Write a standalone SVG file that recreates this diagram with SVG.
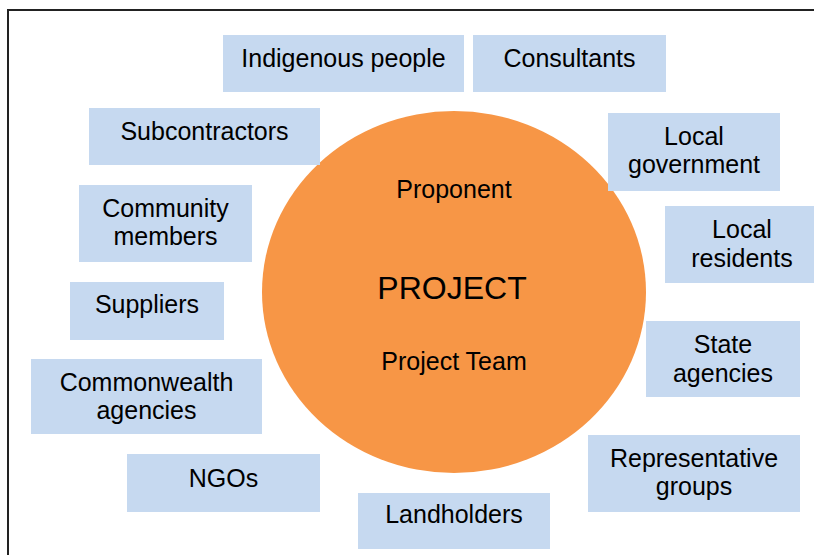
<svg xmlns="http://www.w3.org/2000/svg" width="814" height="555" viewBox="0 0 814 555">
<style>
.box{fill:#C6D9F0}
.t{font-family:"Liberation Sans",Arial,sans-serif;font-size:25px;fill:#000;text-anchor:middle}
.big{font-size:32px}
</style>
<rect x="0" y="0" width="814" height="555" fill="#fff"/>
<rect x="8" y="10" width="830" height="570" fill="none" stroke="#222" stroke-width="2"/>
<g id="connectors"></g>
<g id="project">
<ellipse cx="454" cy="292" rx="192" ry="181" fill="#F79646"/>
<text class="t" x="454" y="198">Proponent</text>
<text class="t big" x="452" y="299">PROJECT</text>
<text class="t" x="454" y="370">Project Team</text>
</g>
<g id="indigenous"><rect class="box" x="223" y="35" width="241" height="57"/><text class="t" x="343.5" y="67">Indigenous people</text></g>
<g id="consultants"><rect class="box" x="473" y="35" width="193" height="57"/><text class="t" x="569.5" y="67">Consultants</text></g>
<g id="subcontractors"><rect class="box" x="89" y="108" width="231" height="57"/><text class="t" x="204.5" y="140">Subcontractors</text></g>
<g id="localgov"><rect class="box" x="608" y="113" width="172" height="78"/><text class="t" x="694" y="145">Local</text><text class="t" x="694" y="173">government</text></g>
<g id="community"><rect class="box" x="79" y="185" width="173" height="77"/><text class="t" x="165.5" y="217">Community</text><text class="t" x="165.5" y="245">members</text></g>
<g id="residents"><rect class="box" x="665" y="206" width="154" height="77"/><text class="t" x="742" y="238">Local</text><text class="t" x="742" y="266.5">residents</text></g>
<g id="suppliers"><rect class="box" x="70" y="282" width="154" height="58"/><text class="t" x="147" y="313">Suppliers</text></g>
<g id="state"><rect class="box" x="646" y="321" width="154" height="76"/><text class="t" x="723" y="353">State</text><text class="t" x="723" y="381.5">agencies</text></g>
<g id="commonwealth"><rect class="box" x="31" y="359" width="231" height="75"/><text class="t" x="146.5" y="391">Commonwealth</text><text class="t" x="146.5" y="419">agencies</text></g>
<g id="ngos"><rect class="box" x="127" y="454" width="193" height="58"/><text class="t" x="223.5" y="487">NGOs</text></g>
<g id="representative"><rect class="box" x="588" y="435" width="212" height="77"/><text class="t" x="694" y="467">Representative</text><text class="t" x="694" y="495">groups</text></g>
<g id="landholders"><rect class="box" x="358" y="493" width="192" height="56"/><text class="t" x="454" y="523">Landholders</text></g>
</svg>
